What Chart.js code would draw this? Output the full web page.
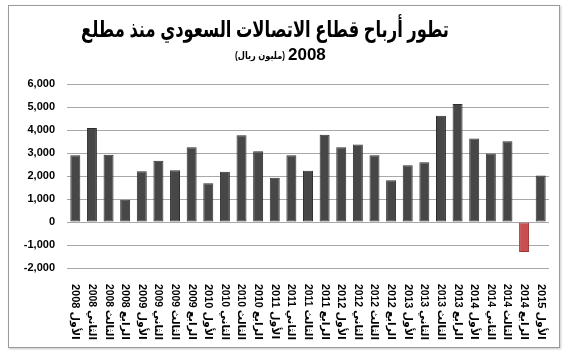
<!DOCTYPE html>
<html>
<head>
<meta charset="utf-8">
<script src="https://cdn.jsdelivr.net/npm/chart.js@4"></script>
<style>
html,body{margin:0;padding:0;background:#fff;}
#frame{position:absolute;left:8px;top:5px;width:550px;height:341px;border:1px solid #9a9a9a;box-shadow:1px 1px 2px #c8c8c8;background:#fff;}
canvas{display:block;}
</style>
</head>
<body>
<div id="frame"><canvas id="c" width="550" height="341"></canvas></div>
<script>
const titleLine1 = "تطور أرباح قطاع الاتصالات السعودي منذ مطلع";
const titleYear = "2008";
const titleUnit = "(مليون ريال)";

const categories = [
  "الأول 2008","الثاني 2008","الثالث 2008","الرابع 2008",
  "الأول 2009","الثاني 2009","الثالث 2009","الرابع 2009",
  "الأول 2010","الثاني 2010","الثالث 2010","الرابع 2010",
  "الأول 2011","الثاني 2011","الثالث 2011","الرابع 2011",
  "الأول 2012","الثاني 2012","الثالث 2012","الرابع 2012",
  "الأول 2013","الثاني 2013","الثالث 2013","الرابع 2013",
  "الأول 2014","الثاني 2014","الثالث 2014","الرابع 2014",
  "الأول 2015"
];
const profits = [
  2900, 4090, 2920, 970,
  2210, 2660, 2250, 3250,
  1680, 2180, 3770, 3080,
  1920, 2900, 2230, 3790,
  3250, 3370, 2900, 1820,
  2470, 2600, 4620, 5130,
  3630, 2980, 3510, -1300,
  2020
];
const yTicks = [-2000, -1000, 0, 1000, 2000, 3000, 4000, 5000, 6000];

const FONT = '"Liberation Sans", "DejaVu Sans", sans-serif';

const headerPlugin = {
  id: 'header',
  afterDraw(chart) {
    const ctx = chart.ctx;
    ctx.save();
    ctx.fillStyle = '#000';
    ctx.textBaseline = 'middle';
    ctx.direction = 'rtl';
    ctx.font = 'bold 23px ' + FONT;
    ctx.textAlign = 'center';
    ctx.fillText(titleLine1, 256, 25, 368);
    ctx.direction = 'ltr';
    ctx.font = 'bold 17px ' + FONT;
    ctx.textAlign = 'left';
    ctx.fillText(titleYear, 279, 49);
    ctx.font = 'bold 10px ' + FONT;
    ctx.textAlign = 'right';
    ctx.fillText(titleUnit, 276, 50, 50);
    ctx.restore();
  }
};

const xLabelPlugin = {
  id: 'xlabels',
  afterDraw(chart) {
    const ctx = chart.ctx;
    const xs = chart.scales.x;
    const top = chart.chartArea.bottom + 16;
    ctx.save();
    ctx.fillStyle = '#000';
    ctx.font = 'bold 11px ' + FONT;
    ctx.textBaseline = 'middle';
    ctx.textAlign = 'left';
    ctx.direction = 'rtl';
    categories.forEach((lab, i) => {
      const x = xs.getPixelForValue(i);
      ctx.save();
      ctx.translate(x, top);
      ctx.rotate(Math.PI / 2);
      ctx.fillText(lab, 0, 0, 56);
      ctx.restore();
    });
    ctx.restore();
  }
};

new Chart(document.getElementById('c'), {
  type: 'bar',
  data: {
    labels: categories,
    datasets: [{
      data: profits,
      backgroundColor: profits.map(v => v < 0 ? '#c9504f' : '#474747'),
      borderColor: profits.map(v => v < 0 ? '#9b3434' : '#2f2f2f'),
      borderWidth: 1,
      borderSkipped: false,
      barPercentage: 0.6,
      categoryPercentage: 1.0
    }]
  },
  options: {
    responsive: false,
    animation: false,
    devicePixelRatio: 1,
    layout: { padding: { top: 78, right: 10, left: 0, bottom: 0 } },
    plugins: { legend: { display: false }, title: { display: false }, tooltip: { enabled: false } },
    scales: {
      x: {
        grid: { display: false },
        border: { display: false },
        ticks: { display: false },
        afterFit(s) { s.height = 79; }
      },
      y: {
        min: -2000, max: 6000,
        afterBuildTicks(s) { s.ticks = yTicks.map(v => ({ value: v })); },
        afterFit(s) { s.width = 58; },
        grid: { color: '#a8a8a8', lineWidth: 1, drawTicks: false },
        border: { display: false },
        ticks: {
          padding: 12,
          color: '#000',
          font: { family: '"Liberation Sans", Arial, sans-serif', size: 11, weight: 'bold' },
          callback: v => v.toLocaleString('en-US')
        }
      }
    }
  },
  plugins: [headerPlugin, xLabelPlugin]
});
</script>
</body>
</html>
